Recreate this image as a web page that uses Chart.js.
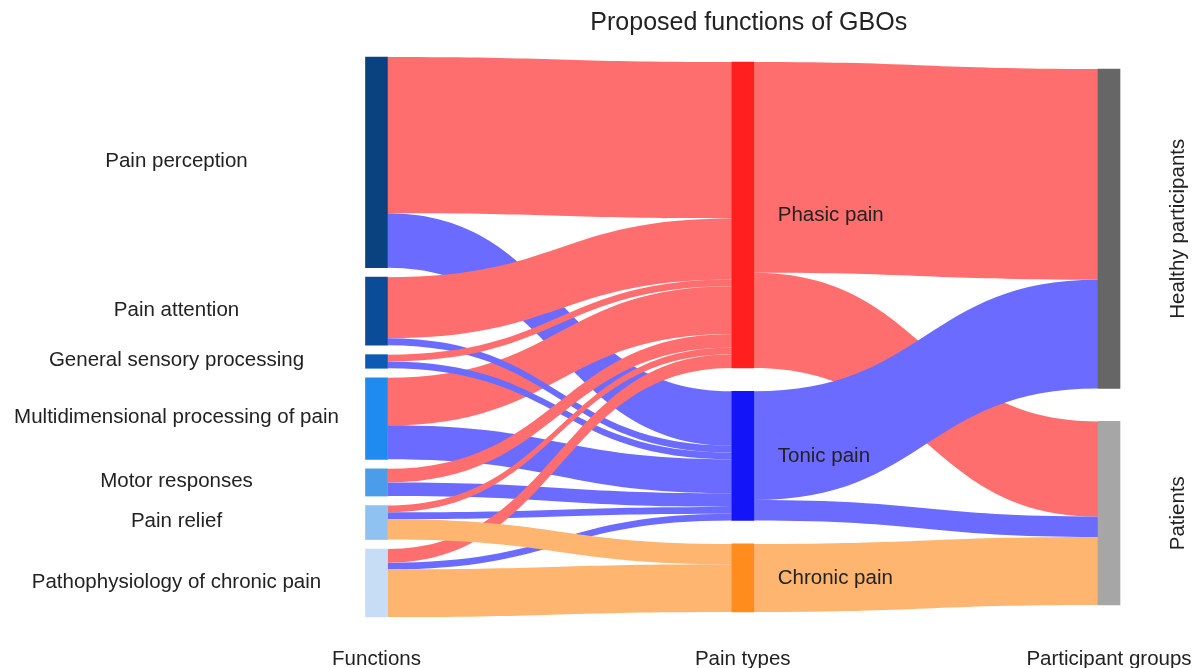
<!DOCTYPE html>
<html lang="en">
<head>
    <meta charset="UTF-8">
    <title>Proposed functions of GBOs</title>
    <script src="https://cdn.jsdelivr.net/npm/chart.js"></script>
    <style>
        html, body { margin: 0; padding: 0; background: #fff; }
        #wrap { width: 1198px; height: 668px; }
    </style>
</head>
<body>
    <div id="wrap"><canvas id="sankey"></canvas></div>

    <script>
        // --- data ---
        const columnTitles = ["Functions", "Pain types", "Participant groups"];
        const functionNames = [
            "Pain perception",
            "Pain attention",
            "General sensory processing",
            "Multidimensional processing of pain",
            "Motor responses",
            "Pain relief",
            "Pathophysiology of chronic pain"
        ];
        const painTypes = ["Phasic pain", "Tonic pain", "Chronic pain"];
        const groups = ["Healthy participants", "Patients"];

        // function -> pain type (indices into functionNames / painTypes)
        const fnSource = [0, 0, 3, 1, 1, 2, 2, 3, 4, 5, 6, 4, 5, 6, 5, 6];
        const fnTarget = [0, 1, 0, 0, 1, 0, 1, 1, 1, 1, 1, 0, 0, 0, 2, 2];
        const fnValue  = [23, 8, 7, 9, 1, 1, 1, 5, 2, 1, 1, 2, 1, 2, 3, 7];

        // pain type -> participant group
        const ptSource = [0, 0, 1, 1, 2];
        const ptTarget = [0, 1, 0, 1, 1];
        const ptValue  = [31, 14, 16, 3, 10];

        // --- styles ---
        const functionColors = ["#0a427f", "#0b4c99", "#0b5bb4", "#1f8af0", "#4b9de9", "#8fc2f1", "#c7ddf5"];
        const painColors = ["#ff1f1f", "#1414f8", "#ff8c1c"];
        const groupColors = ["#666666", "#a6a6a6"];
        const linkColors = ["#ff6e6e", "#6b6bff", "#fdb56f"];
        const colGap = [1.4, 3.45, 4.85];   // node padding per column, in flow units
        const nodeWidth = 22;
        const FONT = "'Liberation Sans', Arial, sans-serif";

        // --- build node/link tables ---
        const nodes = [];
        functionNames.forEach((n, i) => nodes.push({ name: n, col: 0, color: functionColors[i] }));
        painTypes.forEach((n, i) => nodes.push({ name: n, col: 1, color: painColors[i] }));
        groups.forEach((n, i) => nodes.push({ name: n, col: 2, color: groupColors[i] }));
        const P0 = functionNames.length, G0 = P0 + painTypes.length;

        const links = [];
        fnValue.forEach((v, i) => links.push({ s: fnSource[i], t: P0 + fnTarget[i], v, color: linkColors[fnTarget[i]] }));
        ptValue.forEach((v, i) => links.push({ s: P0 + ptSource[i], t: G0 + ptTarget[i], v, color: linkColors[ptSource[i]] }));

        nodes.forEach((n, i) => {
            const inV = links.filter(l => l.t === i).reduce((a, l) => a + l.v, 0);
            const outV = links.filter(l => l.s === i).reduce((a, l) => a + l.v, 0);
            n.value = Math.max(inV, outV);
        });

        // stack nodes in each column, centred vertically
        const colTotals = [0, 1, 2].map(c => {
            const ns = nodes.filter(n => n.col === c);
            return ns.reduce((a, n) => a + n.value, 0) + colGap[c] * (ns.length - 1);
        });
        const yMax = Math.max(...colTotals);
        [0, 1, 2].forEach(c => {
            let y = (yMax - colTotals[c]) / 2;
            nodes.filter(n => n.col === c).forEach(n => {
                n.y0 = y;
                n.y1 = y + n.value;
                y = n.y1 + colGap[c];
            });
        });

        // link offsets at each end
        nodes.forEach((n, i) => {
            let off = n.y0;
            links.map((l, k) => ({ l, k })).filter(o => o.l.s === i)
                .sort((a, b) => nodes[a.l.t].y0 - nodes[b.l.t].y0 || a.k - b.k)
                .forEach(o => { o.l.sy = off; off += o.l.v; });
            off = n.y0;
            links.map((l, k) => ({ l, k })).filter(o => o.l.t === i)
                .sort((a, b) => nodes[a.l.s].y0 - nodes[b.l.s].y0 || a.k - b.k)
                .forEach(o => { o.l.ty = off; off += o.l.v; });
        });

        // nodes as floating bars
        const datasets = nodes.map(n => {
            const data = [null, null, null];
            data[n.col] = [n.y0, n.y1];
            return {
                label: n.name,
                data,
                backgroundColor: n.color,
                barThickness: nodeWidth,
                grouped: false,
                clip: false
            };
        });

        const sankeyPlugin = {
            id: "sankeyPlugin",
            beforeDatasetsDraw(chart) {
                const { ctx, scales: { x, y } } = chart;
                ctx.save();
                links.forEach(l => {
                    const x0 = x.getPixelForValue(nodes[l.s].col) + nodeWidth / 2;
                    const x1 = x.getPixelForValue(nodes[l.t].col) - nodeWidth / 2;
                    const a0 = y.getPixelForValue(l.sy), a1 = y.getPixelForValue(l.sy + l.v);
                    const b0 = y.getPixelForValue(l.ty), b1 = y.getPixelForValue(l.ty + l.v);
                    const xm = (x0 + x1) / 2;
                    ctx.beginPath();
                    ctx.moveTo(x0, a0);
                    ctx.bezierCurveTo(xm, a0, xm, b0, x1, b0);
                    ctx.lineTo(x1, b1);
                    ctx.bezierCurveTo(xm, b1, xm, a1, x0, a1);
                    ctx.closePath();
                    ctx.fillStyle = l.color;
                    ctx.fill();
                });
                ctx.restore();
            },
            afterDatasetsDraw(chart) {
                const { ctx, scales: { x, y } } = chart;
                ctx.save();
                ctx.fillStyle = "#222";
                ctx.textBaseline = "middle";

                // title
                ctx.font = "25px " + FONT;
                ctx.textAlign = "center";
                ctx.fillText("Proposed functions of GBOs", x.getPixelForValue(1) + 6, 23);

                ctx.font = "20.5px " + FONT;
                nodes.forEach(n => {
                    const cy = y.getPixelForValue((n.y0 + n.y1) / 2);
                    const cx = x.getPixelForValue(n.col);
                    if (n.col === 0) {
                        ctx.textAlign = "center";
                        ctx.fillText(n.name, cx - 200, cy - 1);
                    } else if (n.col === 1) {
                        ctx.textAlign = "left";
                        ctx.fillText(n.name, cx + nodeWidth / 2 + 24, cy);
                    } else {
                        ctx.save();
                        ctx.translate(cx + 69, cy);
                        ctx.rotate(-Math.PI / 2);
                        ctx.textAlign = "center";
                        ctx.fillText(n.name, 0, 0);
                        ctx.restore();
                    }
                });
                ctx.restore();
            }
        };

        new Chart(document.getElementById("sankey"), {
            type: "bar",
            data: { labels: columnTitles, datasets },
            options: {
                responsive: true,
                maintainAspectRatio: false,
                animation: false,
                layout: { padding: { left: 376.5, right: 89, top: 57, bottom: 0 } },
                plugins: { legend: { display: false }, tooltip: { enabled: false }, title: { display: false } },
                scales: {
                    x: {
                        type: "category",
                        offset: false,
                        grid: { display: false },
                        border: { display: false },
                        ticks: {
                            color: "#222",
                            padding: 24,
                            maxRotation: 0,
                            font: { family: FONT, size: 20.5, lineHeight: 1 }
                        },
                        afterFit(scale) {
                            scale.paddingLeft = 0;
                            scale.paddingRight = 0;
                            scale.height = 51;
                        }
                    },
                    y: {
                        display: false,
                        reverse: true,
                        min: 0,
                        max: yMax
                    }
                }
            },
            plugins: [sankeyPlugin]
        });
    </script>
</body>
</html>
